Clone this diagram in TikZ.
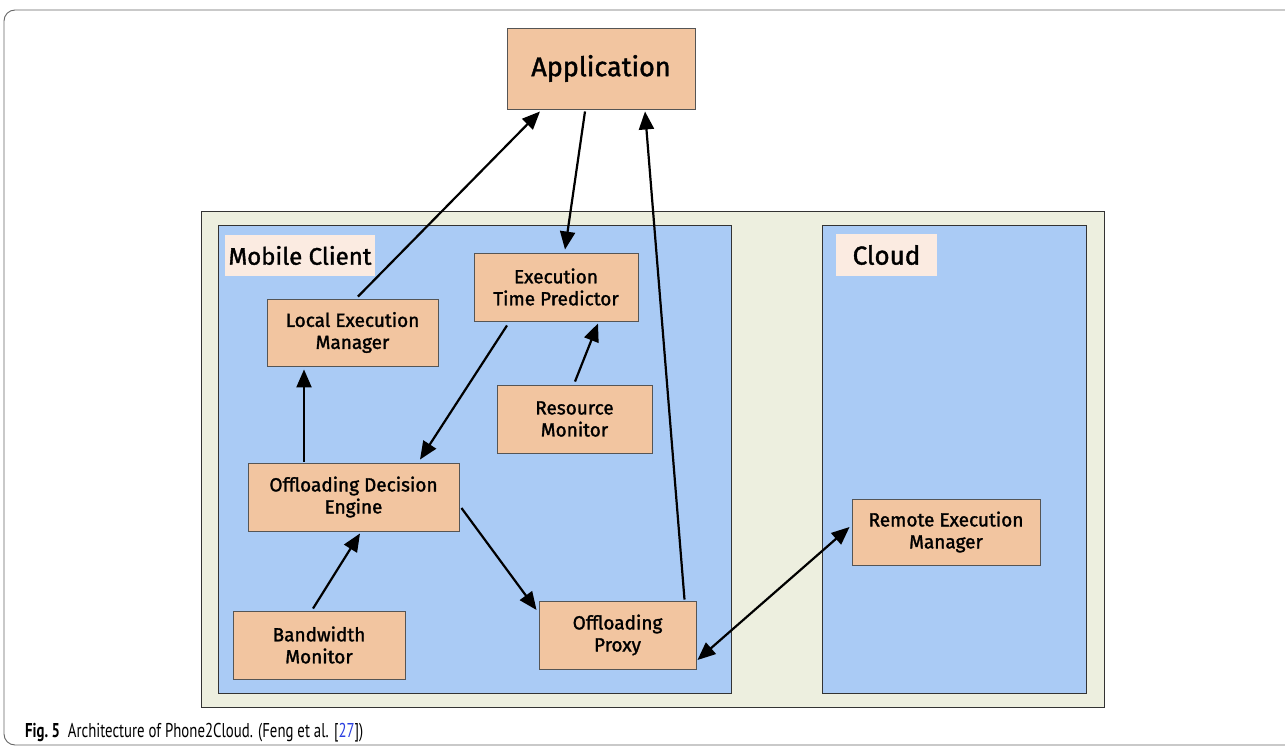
\documentclass[tikz,border=0pt]{standalone}
\usepackage{fontspec}
\setmainfont{Fira Sans}[FakeBold=1.5]
\newfontfamily\capfont{PT Sans}[FakeStretch=0.74]
\usetikzlibrary{arrows.meta,calc}
\definecolor{boxfill}{HTML}{F2C5A0}
\definecolor{zonefill}{HTML}{AACBF5}
\definecolor{basefill}{HTML}{EDEFDF}
\definecolor{tagfill}{HTML}{FBEBE1}
\definecolor{edgegray}{HTML}{555555}
\definecolor{refblue}{HTML}{2B3FE0}
\begin{document}
\begin{tikzpicture}[x=1pt,y=-1pt,
  comp/.style={draw=edgegray,line width=0.9pt,fill=boxfill,align=center,inner sep=0pt,
    font=\fontsize{19}{22}\selectfont},
  zone/.style={draw=black!80,line width=1pt,fill=zonefill},
  tag/.style={fill=tagfill,inner sep=0pt,font=\fontsize{24}{28}\selectfont},
  link/.style={line width=2.2pt,-{Triangle[length=18pt,width=15pt]}},
  duplex/.style={line width=2.2pt,{Triangle[length=18pt,width=15pt]}-{Triangle[length=18pt,width=15pt]}}
]
\useasboundingbox (0,0) rectangle (1285,749);
% outer frame of the figure
\draw[black!60,line width=0.9pt,rounded corners=11pt] (1300,10) -- (4,10) -- (4,745) -- (1300,745);

% platform and its two zones
\draw[black!80,line width=1pt,fill=basefill] (201,211) rectangle (1104,707);
\draw[zone] (218,225) rectangle (731,693);
\draw[zone] (822,225) rectangle (1086,693);
\node[tag,minimum width=150pt,minimum height=41pt] (mctag) at (300,255.5) {Mobile Client};
\node[tag,minimum width=101pt,minimum height=42pt,font=\fontsize{26}{30}\selectfont] (cltag) at (886.5,255) {Cloud};

% components
\node[comp,minimum width=188pt,minimum height=81pt,font=\fontsize{27}{30}\selectfont] (app) at (601,68.5) {Application};
\node[comp,minimum width=164pt,minimum height=68pt] (etp) at (556,287) {Execution\\Time Predictor};
\node[comp,minimum width=171pt,minimum height=67pt] (lem) at (352.5,332.5) {Local Execution\\Manager};
\node[comp,minimum width=155pt,minimum height=68pt] (rm) at (574.5,419) {Resource\\Monitor};
\node[comp,minimum width=211pt,minimum height=68pt] (ode) at (353.5,497) {Offloading Decision\\Engine};
\node[comp,minimum width=188pt,minimum height=66pt] (rem) at (946,532) {Remote Execution\\Manager};
\node[comp,minimum width=172pt,minimum height=68pt] (bm) at (319,645) {Bandwidth\\Monitor};
\node[comp,minimum width=157pt,minimum height=68pt] (op) at (617.5,635) {Offloading\\Proxy};

% data flow
\draw[link] ($(lem.north)+(5.5,-2)$) -- ($(app.south)+(-61,2)$);
\draw[link] ($(app.south)+(-16,2)$) -- ($(etp.north)+(9,-3)$);
\draw[link] ($(op.north)+(67,-1)$) -- ($(app.south)+(44,2)$);
\draw[link] ($(etp.south)+(-49,4)$) -- ($(ode.north)+(66.5,-3)$);
\draw[link] ($(rm.north)+(0.5,-3)$) -- ($(etp.south)+(42,2)$);
\draw[link] ($(ode.north)+(-49.5,-1)$) -- ($(lem.south)+(-48.5,3)$);
\draw[link] ($(bm.north)+(-6,-2)$) -- ($(ode.south)+(6.5,2)$);
\draw[link] ($(ode.east)+(2,11)$) -- ($(op.west)+(-2,-25)$);
\draw[duplex] ($(op.east)+(1,25)$) -- ($(rem.west)+(-2,-5)$);

% caption
\node[anchor=base west,inner sep=0pt,font=\capfont\fontsize{20}{22}\selectfont] (cap) at (25,737)
  {\textbf{Fig.\,5}\ \ Architecture of Phone2Cloud. (Feng et al. [\textcolor{refblue}{27}])};
\end{tikzpicture}
\end{document}
